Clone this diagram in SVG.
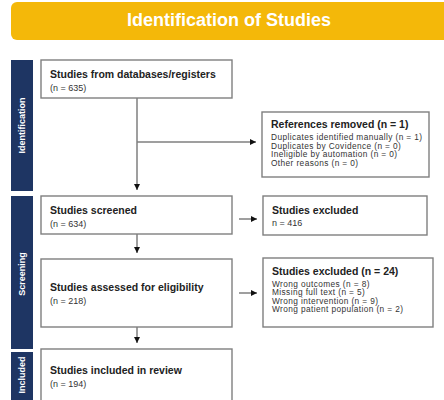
<svg xmlns="http://www.w3.org/2000/svg" width="444" height="400" viewBox="0 0 444 400">
<defs>
<marker id="ah" viewBox="0 0 10 10" refX="10" refY="5" markerWidth="6" markerHeight="6" markerUnits="userSpaceOnUse" orient="auto">
<path d="M0,0 L10,5 L0,10 z" fill="#111"/>
</marker>
<style>
.box{fill:#fff;stroke:#7f7f7f;stroke-width:1.4}
.side{fill:#1e3563}
.sl{fill:#fff;font-family:"Liberation Sans",Arial,sans-serif;font-weight:bold;font-size:9px;text-anchor:middle}
.t{fill:#222;font-family:"Liberation Sans",Arial,sans-serif;font-weight:bold;font-size:10.5px}
.n{fill:#333;font-family:"Liberation Sans",Arial,sans-serif;font-size:9px}
.s{fill:#333;font-family:"Liberation Sans",Arial,sans-serif;font-size:8.3px;letter-spacing:0.4px}
.c{stroke:#7f7f7f;stroke-width:1.5;fill:none}
</style>
</defs>
<rect width="444" height="400" fill="#fff"/>
<g id="header">
<rect x="11" y="2" width="445" height="38" rx="6" fill="#f4b809"/>
<text x="229" y="26" fill="#fff" font-family="Liberation Sans,Arial,sans-serif" font-weight="bold" font-size="18" text-anchor="middle">Identification of Studies</text>
</g>
<g id="side-identification">
<rect class="side" x="11" y="60" width="22" height="131"/>
<text class="sl" transform="translate(25.2,125.5) rotate(-90)">Identification</text>
</g>
<g id="side-screening">
<rect class="side" x="11" y="196" width="22" height="153"/>
<text class="sl" transform="translate(25.2,274) rotate(-90)">Screening</text>
</g>
<g id="side-included">
<rect class="side" x="11" y="352" width="22" height="52"/>
<text class="sl" transform="translate(25.2,375) rotate(-90)">Included</text>
</g>
<g id="connectors">
<path class="c" d="M137,98 V190" marker-end="url(#ah)"/>
<path class="c" d="M137,142 H256" marker-end="url(#ah)"/>
<path class="c" d="M137,234 V253" marker-end="url(#ah)"/>
<path class="c" d="M137,327 V343" marker-end="url(#ah)"/>
<path class="c" d="M239,219 H257" marker-end="url(#ah)"/>
<path class="c" d="M239,293 H257" marker-end="url(#ah)"/>
</g>
<g id="databases">
<rect class="box" x="41" y="60" width="191" height="38"/>
<text class="t" x="50" y="78">Studies from databases/registers</text>
<text class="n" x="50" y="91">(n = 635)</text>
</g>
<g id="removed">
<rect class="box" x="262" y="112" width="167" height="65"/>
<text class="t" x="271" y="128">References removed (n = 1)</text>
<text class="s" x="271" y="140">Duplicates identified manually (n = 1)</text>
<text class="s" x="271" y="148.5">Duplicates by Covidence (n = 0)</text>
<text class="s" x="271" y="157">Ineligible by automation (n = 0)</text>
<text class="s" x="271" y="165.5">Other reasons (n = 0)</text>
</g>
<g id="screened">
<rect class="box" x="41" y="196" width="191" height="38"/>
<text class="t" x="50" y="214">Studies screened</text>
<text class="n" x="50" y="227">(n = 634)</text>
</g>
<g id="excluded1">
<rect class="box" x="263" y="196" width="164" height="39"/>
<text class="t" x="272" y="214">Studies excluded</text>
<text class="n" x="272" y="226">n = 416</text>
</g>
<g id="eligibility">
<rect class="box" x="41" y="259" width="191" height="68"/>
<text class="t" x="50" y="291">Studies assessed for eligibility</text>
<text class="n" x="50" y="304">(n = 218)</text>
</g>
<g id="excluded2">
<rect class="box" x="263" y="258" width="170" height="69"/>
<text class="t" x="272" y="275">Studies excluded (n = 24)</text>
<text class="s" x="272" y="286.5">Wrong outcomes (n = 8)</text>
<text class="s" x="272" y="295">Missing full text (n = 5)</text>
<text class="s" x="272" y="303.5">Wrong intervention (n = 9)</text>
<text class="s" x="272" y="312">Wrong patient population (n = 2)</text>
</g>
<g id="included">
<rect class="box" x="41" y="349" width="191" height="60"/>
<text class="t" x="50" y="374">Studies included in review</text>
<text class="n" x="50" y="387">(n = 194)</text>
</g>
</svg>
